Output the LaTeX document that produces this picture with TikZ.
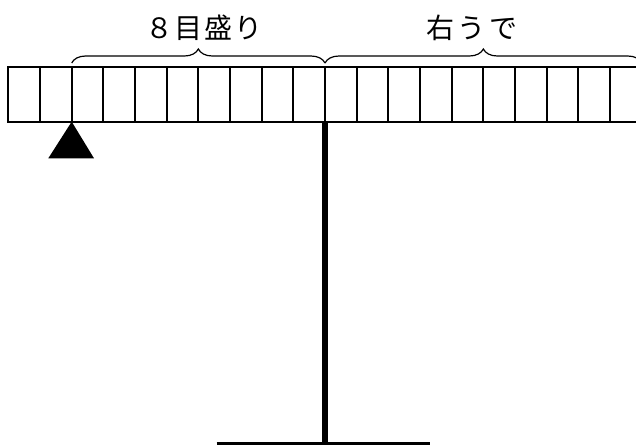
\documentclass[tikz,border=0pt]{standalone}
\usepackage{fontspec}
\newfontfamily\jpfont{Noto Sans CJK JP}
\usetikzlibrary{decorations.pathreplacing}
\tikzset{
  barline/.style={line width=2pt},
  bracestyle/.style={decorate,decoration={brace,amplitude=14pt},line width=1.2pt},
  label/.style={font=\jpfont\fontsize{28pt}{28pt}\selectfont,inner sep=0pt,anchor=center},
}
\newcommand{\jgap}{\hspace{2pt}}
\begin{document}
\begin{tikzpicture}[x=1pt,y=-1pt]
\useasboundingbox (0,0) rectangle (636,445);
% beam
\coordinate (bl) at (8.3,66.7);
\coordinate (br) at (641.7,121.7);
\draw[barline] (bl) rectangle (br);
\foreach \k in {1,...,19}{
  \draw[barline] ({8.3+31.67*\k},66.7) -- ({8.3+31.67*\k},121.7);
}
% braces
\coordinate (b1s) at (71.7,63);
\coordinate (b1e) at (325,63);
\coordinate (b2s) at (325,63);
\coordinate (b2e) at (641.7,63);
\draw[bracestyle] (b1s) -- (b1e);
\draw[bracestyle] (b2s) -- (b2e);
\node[label] (t1) at (204,27.5) {８\jgap 目\jgap 盛\jgap り};
\node[label] (t2) at (472,27.5) {右\hspace{4pt}う\hspace{4pt}で};
% pole and base
\coordinate (ptop) at (325,121.7);
\coordinate (pbot) at (325,443);
\draw[line width=5.5pt] (ptop) -- (pbot);
\coordinate (basel) at (216.7,443);
\coordinate (baser) at (430,443);
\draw[line width=3pt] (basel) -- (baser);
% fulcrum
\fill (71.7,121.7) -- (94,158.3) -- (48.3,158.3) -- cycle;
\end{tikzpicture}
\end{document}
